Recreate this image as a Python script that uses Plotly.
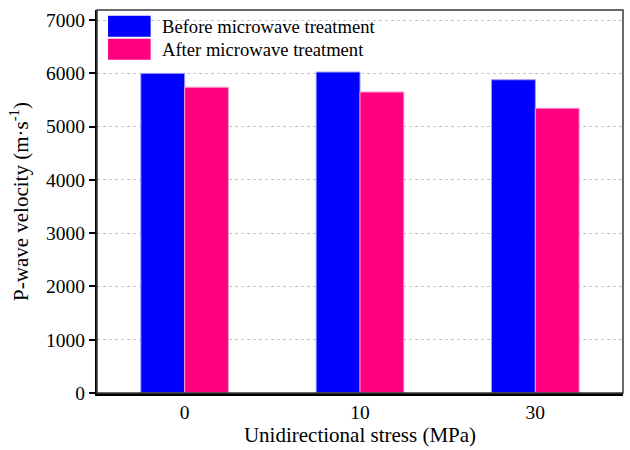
import plotly.graph_objects as go

# Unidirectional stress levels (MPa) and P-wave velocities (m/s)
stress_levels = ["0", "10", "30"]
velocity_before = [6000, 6025, 5880]
velocity_after = [5740, 5650, 5345]

series_names = ["Before microwave treatment", "After microwave treatment"]
series_colors = ["#0000FF", "#FF0080"]
edge_colors = ["#9999FF", "#FF99CC"]

FONT = "Liberation Serif"


def serif(size):
    return dict(family=FONT, size=size, color="black")


fig = go.Figure()
for name, vals, col, edge in zip(series_names, [velocity_before, velocity_after],
                                 series_colors, edge_colors):
    fig.add_trace(go.Bar(
        x=stress_levels, y=vals, name=name,
        marker=dict(color=col, line=dict(color=edge, width=1)),
        showlegend=False,
    ))

# Legend drawn as large swatches with labels in the upper-left corner
swatch_x0, swatch_x1 = 0.021, 0.102
swatch_rows = [(0.985, 0.930), (0.925, 0.870)]
shapes = []
annotations = []
for (y1, y0), name, col in zip(swatch_rows, series_names, series_colors):
    shapes.append(dict(type="rect", xref="paper", yref="paper",
                       x0=swatch_x0, x1=swatch_x1, y0=y0, y1=y1,
                       fillcolor=col, line=dict(width=0)))
    annotations.append(dict(xref="paper", yref="paper", x=0.119, y=(y0 + y1) / 2,
                            text=name, showarrow=False, xanchor="left",
                            yanchor="middle", font=serif(18.6)))

# Plot frame: top and right edges in dark gray
shapes.append(dict(type="rect", xref="paper", yref="paper", x0=0, x1=1, y0=0, y1=1,
                   line=dict(color="#3A3A3A", width=1.5), layer="above"))

fig.update_layout(
    template="none",
    width=630, height=450,
    margin=dict(l=97, r=7, t=10, b=57),
    paper_bgcolor="white", plot_bgcolor="white",
    barmode="group", bargap=0.5, bargroupgap=0,
    font=serif(19.5),
    shapes=shapes, annotations=annotations,
    xaxis=dict(
        type="category",
        title=dict(text="Unidirectional stress (MPa)", font=serif(21), standoff=4),
        showline=True, linecolor="black", linewidth=2.5,
        ticks="", showgrid=False, tickfont=serif(19.5),
    ),
    yaxis=dict(
        title=dict(text="P-wave velocity (m·s<sup>-1</sup>)", font=serif(21), standoff=12),
        range=[0, 7190], tickvals=[0, 1000, 2000, 3000, 4000, 5000, 6000, 7000],
        showline=True, linecolor="black", linewidth=2,
        ticks="outside", ticklen=6, tickwidth=1.5, tickcolor="black",
        showgrid=True, gridcolor="#C4C4C4", gridwidth=1, griddash="3px,3px",
        zeroline=False, tickfont=serif(19.5),
    ),
)

fig.write_html("out.html")
